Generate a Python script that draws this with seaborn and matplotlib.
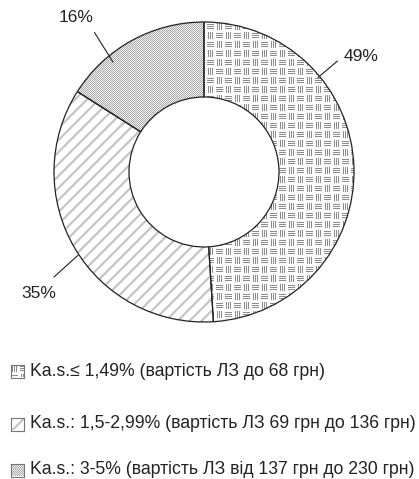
import numpy as np
import matplotlib
matplotlib.use("Agg")
import matplotlib.pyplot as plt
import seaborn as sns

# chart data
shares = [49, 35, 16]
pct_labels = ["49%", "35%", "16%"]
legend_labels = [
    "Ka.s.\u2264 1,49% (вартість ЛЗ до 68 грн)",
    "Ka.s.: 1,5-2,99% (вартість ЛЗ 69 грн до 136 грн)",
    "Ka.s.: 3-5% (вартість ЛЗ від 137 грн до 230 грн)",
]

sns.set_theme(style="white")
plt.rcParams['font.family'] = ['Liberation Sans', 'DejaVu Sans']

W, H = 419, 479


def basket(n):
    a = np.ones((n, n))
    for i in range(n):
        for j in range(n):
            bi, bj, ri, rj = i // 9, j // 9, i % 9, j % 9
            if (bi + bj) % 2 == 0:
                if rj in (1, 3, 5) and 1 <= ri <= 7:
                    a[i, j] = 0.55
            else:
                if ri in (2, 4, 6) and 0 <= rj <= 6:
                    a[i, j] = 0.55
    return a


def stripes(n):
    i, j = np.indices((n, n))
    k = (i + j) % 12
    a = np.ones((n, n))
    a[(k == 0) | (k == 3)] = 0.88
    a[(k == 1) | (k == 2)] = 0.76
    return a


def dots(n):
    i, j = np.indices((n, n))
    return np.where((i + j) % 2 == 0, 0.66, 0.95)


textures = [basket, stripes, dots]

fig = plt.figure(figsize=(W / 100, H / 100), dpi=100)
cx, cy, R = 204, 172, 150
ax = fig.add_axes([(cx - R) / W, (H - cy - R) / H, 2 * R / W, 2 * R / H])

wedges, _ = ax.pie(shares, startangle=90, counterclock=False, radius=1,
                   wedgeprops=dict(width=0.5, facecolor="none",
                                   edgecolor="#222222", linewidth=0.9))
for w, tex in zip(wedges, textures):
    w.set_zorder(3)
    im = ax.imshow(tex(2 * R), extent=(-1, 1, -1, 1), cmap="gray",
                   vmin=0, vmax=1, interpolation="nearest", zorder=1)
    im.set_clip_path(w)
ax.set_xlim(-1, 1)
ax.set_ylim(-1, 1)
ax.set_axis_off()

# leader lines and percentage labels (data units)
edge_pts = [(0.76, 0.63), (-0.84, -0.555), (-0.607, 0.733)]
line_ends = [(0.89, 0.74), (-1.0, -0.70), (-0.73, 0.93)]
text_pos = [(1.05, 0.77), (-1.10, -0.81), (-0.85, 1.03)]
for lab, p, e, t in zip(pct_labels, edge_pts, line_ends, text_pos):
    ax.plot([p[0], e[0]], [p[1], e[1]], color="#222222", lw=0.8,
            clip_on=False, zorder=4)
    ax.text(t[0], t[1], lab, ha="center", va="center", fontsize=12.5,
            color="#222222", clip_on=False)

# legend rows with texture swatches
row_y = [371, 424, 470]
for lab, tex, y in zip(legend_labels, textures, row_y):
    s = 13
    sax = fig.add_axes([11 / W, (H - y - s / 2) / H, s / W, s / H])
    sax.imshow(tex(s), cmap="gray", vmin=0, vmax=1, interpolation="nearest",
               aspect="auto")
    sax.set_xticks([])
    sax.set_yticks([])
    for sp in sax.spines.values():
        sp.set_color("#777777")
        sp.set_linewidth(0.8)
    fig.text(30 / W, (H - y) / H, lab, ha="left", va="center",
             fontsize=12.7, color="#222222")

fig.savefig("out.png", dpi=100)
